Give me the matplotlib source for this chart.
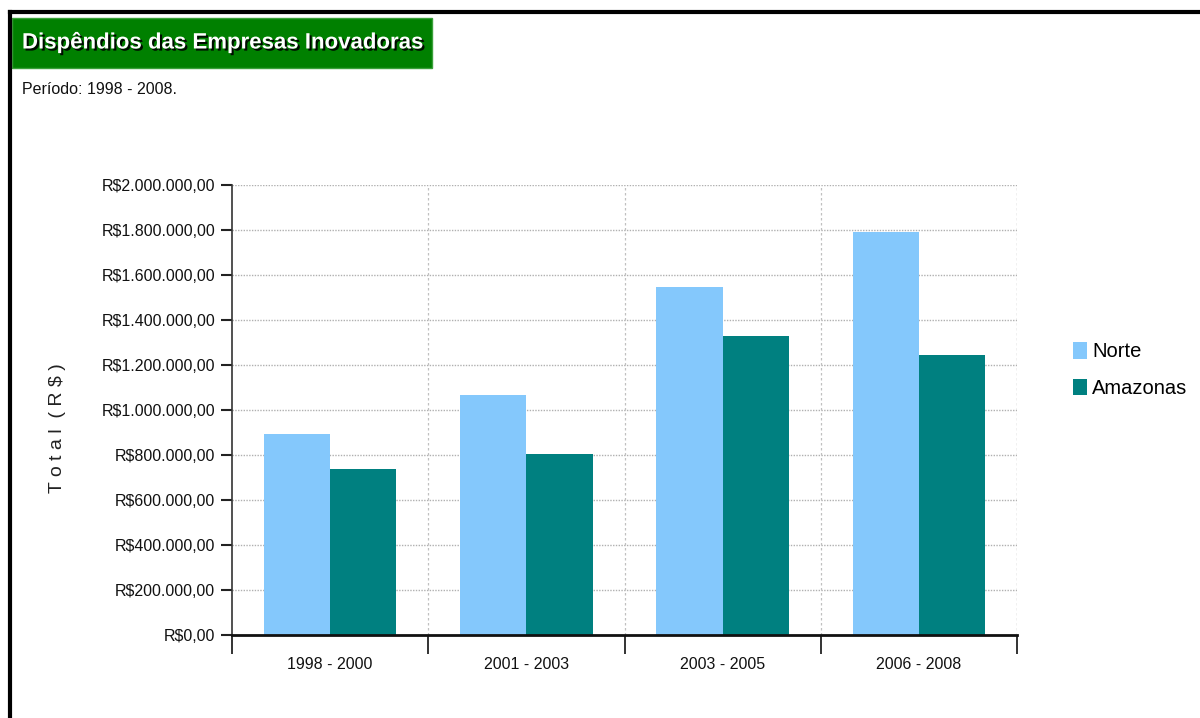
import matplotlib
matplotlib.use("Agg")
import matplotlib.pyplot as plt
import matplotlib.patheffects as pe
from matplotlib.patches import Rectangle
from matplotlib.lines import Line2D
from matplotlib.ticker import FuncFormatter, FixedLocator
import numpy as np

categories = ["1998 - 2000", "2001 - 2003", "2003 - 2005", "2006 - 2008"]
norte = [893000, 1065000, 1548000, 1791000]
amazonas = [736000, 803000, 1330000, 1244000]
series_names = ["Norte", "Amazonas"]
yticks = [0, 200000, 400000, 600000, 800000, 1000000, 1200000, 1400000, 1600000, 1800000, 2000000]

FONT = ["Liberation Sans Narrow", "Liberation Sans", "DejaVu Sans"]
plt.rcParams["font.family"] = FONT

W, H = 1200, 718
fig = plt.figure(figsize=(W / 100, H / 100), dpi=100)
fig.patch.set_facecolor("white")

def fx(px):
    return px / W

def fy(py):
    return 1 - py / H

ax = fig.add_axes([fx(232), fy(635), fx(1017) - fx(232), fy(185) - fy(635)])

x = np.arange(len(categories))
bw = 0.337
c_norte = "#84C8FC"
c_amaz = "#008080"
ax.bar(x - bw / 2, norte, width=bw, color=c_norte, edgecolor="none", zorder=3, label=series_names[0])
ax.bar(x + bw / 2, amazonas, width=bw, color=c_amaz, edgecolor="none", zorder=3, label=series_names[1])

ax.set_xlim(-0.5, len(categories) - 0.5)
ax.set_ylim(0, 2000000)

def fmt(v, pos):
    s = f"{int(round(v)):,}".replace(",", ".")
    return f"R${s},00"

ax.yaxis.set_major_locator(FixedLocator(yticks))
ax.yaxis.set_major_formatter(FuncFormatter(fmt))
ax.set_xticks(x)
ax.set_xticklabels(categories)
ax.set_xticks(np.arange(-0.5, len(categories)), minor=True)
ax.tick_params(axis="x", which="major", length=0, pad=16, labelsize=11.5, labelcolor="#111111")
ax.tick_params(axis="x", which="minor", length=14, width=1.2, color="#111111", direction="out")
ax.tick_params(axis="y", which="major", length=8, width=1.5, color="#222222", pad=4, labelsize=11.5, labelcolor="#111111")

# gridlines
for yv in yticks[1:]:
    ax.axhline(yv, color="#b0b0b0", linestyle=(0, (1, 1)), linewidth=1.0, zorder=1)
for xv in np.arange(0.5, len(categories)):
    ax.axvline(xv, color="#c0c0c0", linestyle=(0, (2, 2)), linewidth=0.9, zorder=1)
ax.axvline(len(categories) - 0.5, color="#c0c0c0", linestyle=(0, (2, 2)), linewidth=0.9, zorder=1)

for s in ["top", "right"]:
    ax.spines[s].set_visible(False)
ax.spines["left"].set_color("#333333")
ax.spines["left"].set_linewidth(1.2)
ax.spines["bottom"].set_color("#111111")
ax.spines["bottom"].set_linewidth(2.0)
ax.spines["bottom"].set_zorder(4)

fig.text(fx(58), fy(428), "T o t a l  ( R $ )", fontsize=14, color="#222222", rotation=90,
         ha="center", va="center", family=["Liberation Sans", "DejaVu Sans"])

leg = ax.legend(loc="center left", bbox_to_anchor=(fx(1055), fy(370)), bbox_transform=fig.transFigure,
                frameon=False, fontsize=14.5, handlelength=0.7, handleheight=0.9, handletextpad=0.25,
                labelspacing=0.85)

# frame lines of the outer panel
fig.add_artist(Line2D([fx(10), fx(10)], [fy(12), fy(718)], color="black", linewidth=3, transform=fig.transFigure))
fig.add_artist(Line2D([fx(10), fx(1200)], [fy(12), fy(12)], color="black", linewidth=3, transform=fig.transFigure))

# title box
fig.add_artist(Rectangle((fx(12), fy(68)), fx(432) - fx(12), fy(18) - fy(68), transform=fig.transFigure,
                         facecolor="#008000", edgecolor="#3aa03a", linewidth=1.0))
fig.text(fx(22), fy(43), "Dispêndios das Empresas Inovadoras", color="white", fontsize=16, fontweight="bold",
         va="center", ha="left",
         path_effects=[pe.withSimplePatchShadow(offset=(1.5, -1.5), shadow_rgbFace="black", alpha=0.9)])
fig.text(fx(22), fy(89), "Período: 1998 - 2008.", color="#111111", fontsize=11.5, va="center", ha="left")

fig.savefig("out.png", dpi=100, facecolor="white")
